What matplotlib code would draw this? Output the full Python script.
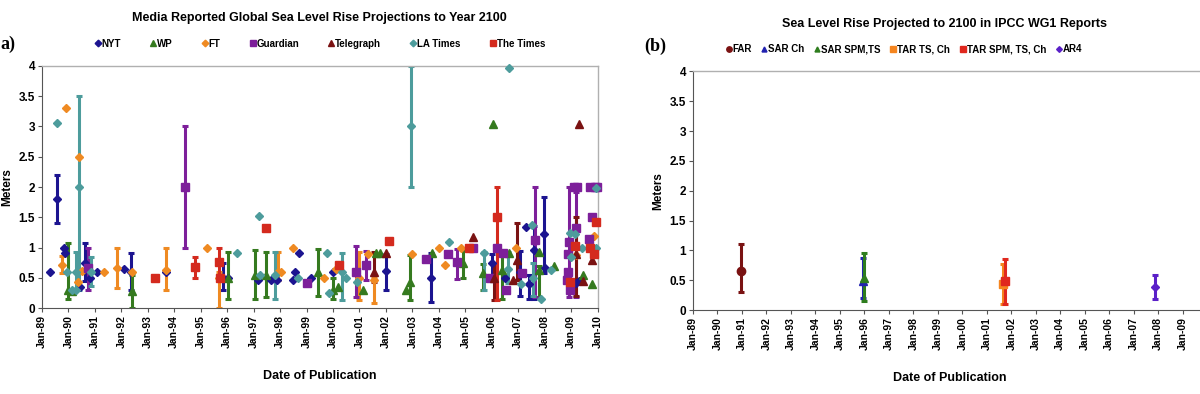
"""Media reported sea level rise projections vs IPCC WG1 reports."""

import matplotlib

matplotlib.use("Agg")
import matplotlib.pyplot as plt
import numpy as np

plt.rcParams["font.family"] = ["Liberation Sans", "DejaVu Sans"]
plt.rcParams["font.weight"] = "bold"
plt.rcParams["axes.titleweight"] = "bold"
plt.rcParams["axes.labelweight"] = "bold"

nan = np.nan

# Panel a) media reports: (date, value, low, high); nan = no range given.
nyt = [
    (1989.30, 0.60, nan, nan), (1989.58, 1.80, 1.40, 2.20), (1989.84, 0.99, nan, nan),
    (1989.86, 0.91, nan, nan), (1990.44, 0.35, nan, nan), (1990.61, 0.75, 0.45, 1.07),
    (1990.81, 0.50, nan, nan), (1991.07, 0.60, nan, nan), (1992.11, 0.65, nan, nan),
    (1992.36, 0.60, 0.30, 0.92), (1993.68, 0.60, nan, nan), (1995.85, 0.50, 0.30, 0.75),
    (1996.04, 0.50, nan, nan), (1997.16, 0.47, nan, nan), (1997.65, 0.47, nan, nan),
    (1997.88, 0.47, nan, nan), (1998.50, 0.47, nan, nan), (1998.58, 0.60, nan, nan),
    (1998.73, 0.92, nan, nan), (1999.16, 0.50, nan, nan), (1999.99, 0.60, nan, nan),
    (2002.00, 0.61, 0.30, 0.90), (2003.71, 0.50, 0.11, 0.92), (2006.02, 0.75, 0.47, 0.90),
    (2006.50, 0.50, nan, nan), (2007.07, 0.60, 0.20, 0.95), (2007.30, 1.34, nan, nan),
    (2007.40, 0.40, 0.16, 0.55), (2007.58, 0.96, 0.16, 1.36), (2007.99, 1.22, 0.58, 1.83),
    (2008.00, 0.66, nan, nan), (2009.20, 0.42, nan, nan), (2009.30, 0.45, nan, nan),
]
wp = [
    (1990.00, 0.30, 0.16, 1.07), (1990.15, 0.28, nan, nan), (1992.40, 0.28, 0.00, 0.55),
    (1996.04, 0.50, 0.16, 0.93), (1997.05, 0.55, 0.16, 0.96), (1997.46, 0.55, 0.18, 0.93),
    (1999.45, 0.60, 0.20, 0.97), (2000.01, 0.30, 0.16, 0.50), (2000.20, 0.35, nan, nan),
    (2001.12, 0.30, nan, nan), (2001.63, 0.92, nan, nan), (2001.76, 0.92, nan, nan),
    (2002.76, 0.30, nan, nan), (2002.91, 0.44, 0.13, 0.88), (2003.74, 0.92, nan, nan),
    (2004.90, 0.75, 0.50, 0.98), (2005.68, 0.59, 0.30, 0.73), (2006.06, 3.04, nan, nan),
    (2006.40, 0.63, 0.15, 0.93), (2006.66, 0.92, nan, nan), (2007.77, 0.64, 0.19, 0.69),
    (2007.77, 0.93, nan, nan), (2008.36, 0.69, nan, nan), (2009.43, 0.55, nan, nan),
    (2009.80, 0.40, nan, nan),
]
ft = [
    (1989.74, 0.72, 0.58, 0.87), (1989.90, 3.30, nan, nan), (1990.37, 0.43, nan, nan),
    (1990.38, 2.50, nan, nan), (1990.50, 0.62, nan, nan), (1991.36, 0.60, nan, nan),
    (1991.85, 0.67, 0.33, 1.00), (1992.40, 0.60, nan, nan), (1993.68, 0.63, 0.30, 1.00),
    (1995.23, 1.00, nan, nan), (1995.70, 0.50, 0.00, 0.60), (1997.91, 0.60, 0.47, 0.93),
    (1998.04, 0.60, nan, nan), (1998.48, 1.00, nan, nan), (1999.66, 0.50, nan, nan),
    (2000.10, 0.65, nan, nan), (2000.99, 0.50, 0.13, 0.93), (2001.34, 0.89, nan, nan),
    (2001.53, 0.47, 0.08, 0.52), (2002.97, 0.90, nan, nan), (2004.02, 1.00, nan, nan),
    (2004.24, 0.71, nan, nan), (2004.84, 1.00, nan, nan), (2006.90, 1.00, nan, nan),
    (2009.20, 0.88, nan, nan), (2009.85, 1.20, nan, nan),
]
guardian = [
    (1990.75, 0.66, 0.30, 1.00), (1994.40, 2.00, 1.00, 3.00), (1999.00, 0.41, nan, nan),
    (2000.87, 0.60, 0.19, 1.02), (2001.25, 0.71, 0.46, 0.95), (2003.52, 0.81, nan, nan),
    (2004.34, 0.89, nan, nan), (2004.70, 0.76, 0.49, 0.98), (2005.30, 1.00, nan, nan),
    (2005.94, 0.50, nan, nan), (2006.21, 1.00, nan, nan), (2006.43, 0.92, nan, nan),
    (2006.54, 0.31, nan, nan), (2007.14, 0.59, nan, nan), (2007.64, 1.13, 0.19, 2.00),
    (2008.85, 0.47, nan, nan), (2008.87, 0.90, nan, nan), (2008.90, 0.60, nan, nan),
    (2008.93, 1.10, 0.19, 2.00), (2008.95, 0.30, nan, nan), (2009.10, 2.00, nan, nan),
    (2009.18, 1.32, 0.19, 1.92), (2009.22, 2.00, nan, nan), (2009.69, 1.15, nan, nan),
    (2009.72, 2.00, nan, nan), (2009.80, 1.50, nan, nan), (2009.90, 2.00, nan, nan),
    (2009.98, 2.00, nan, nan),
]
telegraph = [
    (2001.53, 0.60, 0.43, 0.93), (2002.00, 0.92, nan, nan), (2005.30, 1.17, nan, nan),
    (2006.10, 0.50, 0.14, 0.73), (2006.82, 0.47, nan, nan), (2006.97, 0.80, 0.46, 1.40),
    (2009.18, 0.90, 0.20, 1.50), (2009.28, 3.04, nan, nan), (2009.45, 0.45, nan, nan),
    (2009.80, 0.80, nan, nan),
]
la_times = [
    (1989.58, 3.05, nan, nan), (1989.93, 0.60, nan, nan), (1990.15, 0.30, nan, nan),
    (1990.27, 0.60, 0.30, 0.93), (1990.28, 0.30, nan, nan), (1990.38, 2.00, 0.30, 3.50),
    (1990.87, 0.60, 0.36, 0.85), (1996.36, 0.92, nan, nan), (1997.20, 1.53, nan, nan),
    (1997.25, 0.55, nan, nan), (1997.81, 0.55, 0.16, 0.93), (1998.66, 0.50, nan, nan),
    (1999.76, 0.92, nan, nan), (1999.85, 0.26, nan, nan), (2000.35, 0.60, 0.14, 0.92),
    (2000.48, 0.50, nan, nan), (2000.90, 0.43, nan, nan), (2002.94, 3.00, 2.00, 4.00),
    (2004.39, 1.09, nan, nan), (2005.71, 0.92, 0.30, 0.93), (2006.63, 0.65, 0.41, 0.93),
    (2006.66, 3.97, nan, nan), (2007.10, 0.40, nan, nan), (2007.51, 1.38, nan, nan),
    (2007.55, 0.50, 0.20, 0.75), (2007.87, 0.15, nan, nan), (2008.24, 0.63, nan, nan),
    (2009.00, 0.84, nan, nan), (2008.95, 1.24, nan, nan), (2009.15, 1.22, nan, nan),
    (2009.40, 1.00, nan, nan), (2009.95, 1.98, nan, nan), (2009.95, 1.00, nan, nan),
]
the_times = [
    (1993.27, 0.50, nan, nan), (1994.78, 0.68, 0.50, 0.85), (1995.69, 0.76, 0.47, 1.00),
    (1995.72, 0.50, nan, nan), (1997.46, 1.32, nan, nan), (2000.24, 0.71, nan, nan),
    (2002.12, 1.11, nan, nan), (2005.15, 1.00, nan, nan), (2006.21, 1.51, 0.14, 2.00),
    (2008.97, 0.43, nan, nan), (2009.16, 1.02, nan, nan), (2009.70, 1.00, nan, nan),
    (2009.85, 0.90, nan, nan), (2009.94, 1.42, nan, nan),
]

media_names = ["NYT", "WP", "FT", "Guardian", "Telegraph", "LA Times", "The Times"]
media_data = [nyt, wp, ft, guardian, telegraph, la_times, the_times]
media_colors = ["#1c1490", "#357a1f", "#ef8a22", "#7d1f9a", "#7a1212", "#4d9c9c", "#d42a1e"]
media_markers = ["D", "^", "D", "s", "^", "D", "s"]

# Panel b) IPCC reports
ipcc_names = ["FAR", "SAR Ch", "SAR SPM,TS", "TAR TS, Ch", "TAR SPM, TS, Ch", "AR4"]
ipcc_dates = [1990.94, 1995.93, 1995.99, 2001.67, 2001.74, 2007.88]
ipcc_mid = [0.66, 0.49, 0.53, 0.44, 0.49, 0.38]
ipcc_low = [0.31, 0.20, 0.16, 0.11, 0.11, 0.18]
ipcc_high = [1.10, 0.87, 0.95, 0.78, 0.85, 0.59]
ipcc_colors = ["#7a1212", "#2222b0", "#2e7d1e", "#f5851f", "#e0281e", "#5a20c8"]
ipcc_markers = ["o", "^", "^", "s", "s", "D"]

marker_sizes = {"D": 4.5, "^": 5.5, "s": 6, "o": 6}


def style_axes(ax, years):
    ax.set_ylim(0, 4)
    ax.set_yticks([0, 0.5, 1, 1.5, 2, 2.5, 3, 3.5, 4])
    ax.set_yticklabels(["0", "0.5", "1", "1.5", "2", "2.5", "3", "3.5", "4"],
                       fontsize=8.5, fontweight="bold")
    ax.set_xticks(years)
    ax.set_xticklabels(["Jan-%02d" % (y % 100) for y in years], rotation=90,
                       fontsize=7.5, fontweight="bold")
    for side in ["top", "right"]:
        ax.spines[side].set_color("#b0b0b0")
        ax.spines[side].set_linewidth(1.0)
    for side in ["left", "bottom"]:
        ax.spines[side].set_color("#555555")
    ax.tick_params(direction="out", length=3, color="#555555", pad=2)
    ax.set_ylabel("Meters", fontsize=8.5, labelpad=4)
    ax.set_xlabel("Date of Publication", fontsize=9, labelpad=16)


fig = plt.figure(figsize=(12, 3.94), dpi=100)
ax1 = fig.add_axes([0.035, 0.2175, 0.463, 0.6155])
ax2 = fig.add_axes([0.5775, 0.213, 0.4285, 0.606])
legend_font = {"size": 7, "weight": "bold"}

# Panel a
for name, rows, color, mk in zip(media_names, media_data, media_colors, media_markers):
    arr = np.array(rows)
    x, y, lo, hi = arr[:, 0], arr[:, 1], arr[:, 2], arr[:, 3]
    has = ~np.isnan(lo)
    ax1.errorbar(x[has], y[has], yerr=[y[has] - lo[has], hi[has] - y[has]], fmt="none",
                 ecolor=color, elinewidth=2.2, capsize=2, capthick=2.2, zorder=2)
    ax1.plot(x, y, linestyle="none", marker=mk, color=color, markersize=marker_sizes[mk],
             label=name, clip_on=False, zorder=3)
ax1.set_xlim(1989, 2010)
style_axes(ax1, list(range(1989, 2011)))
ax1.set_title("Media Reported Global Sea Level Rise Projections to Year 2100",
              fontsize=9, pad=32)
ax1.legend(loc="lower center", bbox_to_anchor=(0.5, 1.035), ncol=7, frameon=False,
           prop=legend_font, handlelength=0.6, handletextpad=0.1, columnspacing=3.0,
           markerscale=0.75)

# Panel b
for i in range(len(ipcc_names)):
    ax2.errorbar([ipcc_dates[i]], [ipcc_mid[i]],
                 yerr=[[ipcc_mid[i] - ipcc_low[i]], [ipcc_high[i] - ipcc_mid[i]]],
                 fmt=ipcc_markers[i], color=ipcc_colors[i], ecolor=ipcc_colors[i],
                 markersize=marker_sizes[ipcc_markers[i]], elinewidth=2.2, capsize=2,
                 capthick=2.2, label=ipcc_names[i])
ax2.set_xlim(1989, 2010)
style_axes(ax2, list(range(1989, 2010)))
ax2.set_title("Sea Level Rise Projected to 2100 in IPCC WG1 Reports",
              fontsize=9, pad=32, x=0.4888)
handles, labels = ax2.get_legend_handles_labels()
ax2.legend([h[0] for h in handles], labels, loc="lower center",
           bbox_to_anchor=(0.41, 1.035), ncol=6, frameon=False, prop=legend_font,
           handlelength=0.6, handletextpad=0.1, columnspacing=1.0, markerscale=0.65)

fig.text(0.0, 0.875, "a)", fontsize=13, fontweight="bold", family="Liberation Serif")
fig.text(0.537, 0.87, "(b)", fontsize=13, fontweight="bold", family="Liberation Serif")

fig.savefig("out.png", dpi=100)
